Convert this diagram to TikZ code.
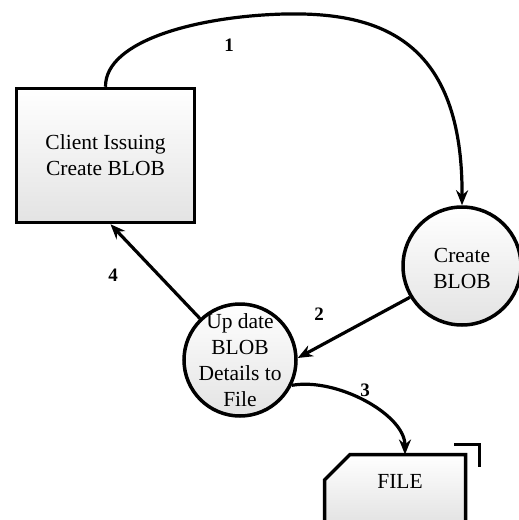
\documentclass[tikz,border=0pt]{standalone}
\usepackage{fontspec}
\setmainfont{Liberation Serif}
\usetikzlibrary{arrows.meta,calc}
\begin{document}
\begin{tikzpicture}[x=1pt,y=-1pt,
  shp/.style={draw=black, line width=3.5pt, top color=white, bottom color=gray!22},
  txt/.style={align=center, font=\fontsize{21.5}{26}\selectfont, inner sep=0pt},
  flow/.style={line width=3.2pt, -{Stealth[length=15pt,width=12pt]}},
  num/.style={font=\fontsize{19}{19}\selectfont\bfseries, inner sep=0pt}]
\useasboundingbox (0,0) rectangle (519,520);
\clip (0,0) rectangle (519,520);
% shapes
\node[shp, rectangle, minimum width=178pt, minimum height=134pt, inner sep=0pt] (client) at (105.5,155.5) {};
\node[txt] (clienttext) at (105.5,155.5) {Client Issuing\\Create BLOB};
\node[shp, circle, minimum size=118pt, inner sep=0pt] (create) at (462,266) {};
\node[txt] (createtext) at (462,268) {Create\\BLOB};
\node[shp, circle, minimum size=112pt, inner sep=0pt] (update) at (240,360) {};
\node[txt] (updatetext) at (240,360.5) {Up date\\BLOB\\Details to\\File};
\draw[shp, line join=miter] (324.5,523) -- (324.5,480) -- (350,454.5) -- (465.5,454.5) -- (465.5,523) -- cycle;
\node[txt] (file) at (400,481) {FILE};
\coordinate (filetop) at (405,454.5);
\draw[line width=3.5pt, line join=miter] (454,444.5) -- (479.5,444.5) -- (479.5,467);
% connectors
\coordinate (peak) at (285,14);
\draw[flow] (client.north) .. controls (105,40) and (200,16) .. (peak)
  .. controls (380,12) and (463,40) .. (create.north);
\draw[flow] (update.134) -- ([xshift=5pt]client.south);
\draw[flow] (create.211) -- (update.2);
\draw[flow] (update.334) .. controls +(45,-8) and +(0,-40) .. (filetop);
% labels
\node[num] (l1) at (229,45) {1};
\node[num] (l2) at (319,314) {2};
\node[num] (l3) at (365,390) {3};
\node[num] (l4) at (113,275) {4};
\end{tikzpicture}
\end{document}
